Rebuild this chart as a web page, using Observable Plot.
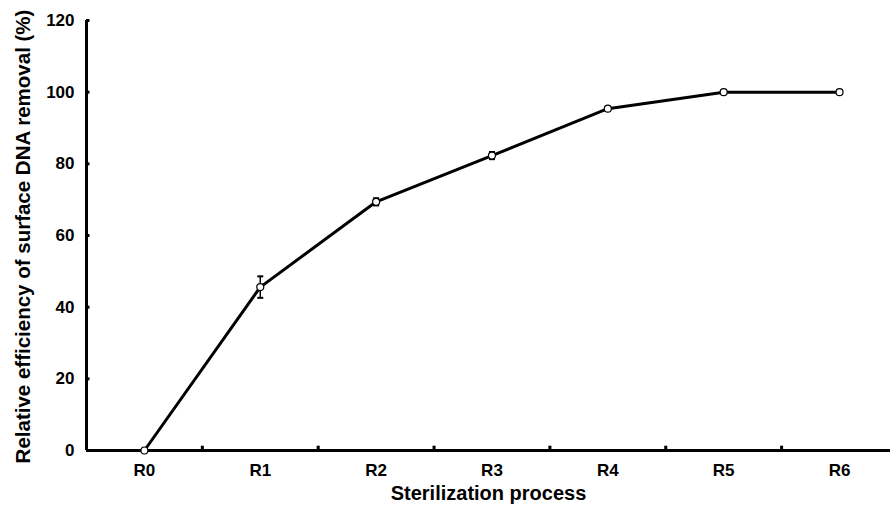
<!DOCTYPE html>
<html><head><meta charset="utf-8">
<script src="https://cdn.jsdelivr.net/npm/d3@7"></script>
<script src="https://cdn.jsdelivr.net/npm/@observablehq/plot@0.6"></script>
<style>body{margin:0;background:#fff}</style>
</head><body><div id="chart"></div>
<script>
const categories = ["R0","R1","R2","R3","R4","R5","R6"];
const values = [0, 45.6, 69.4, 82.3, 95.4, 100, 100];
const errors = [0, 3, 1, 1, 0.4, 0, 0];
const yTicks = [0,20,40,60,80,100,120];
const yLabel = "Relative efficiency of surface DNA removal (%)";
const xLabel = "Sterilization process";

const data = categories.map((c,i)=>({i, c, v: values[i], e: errors[i]}));
const bounds = d3.range(0.5, categories.length - 1, 1);
const caps = data.filter(d => d.e > 0).flatMap(d => [{i: d.i, y: d.v - d.e}, {i: d.i, y: d.v + d.e}]);
const font = "'Liberation Sans', Arial, sans-serif";

const plot = Plot.plot({
  width: 890, height: 511,
  marginLeft: 86, marginRight: 0, marginTop: 20, marginBottom: 61,
  style: {fontFamily: font, fontWeight: "bold", fontSize: "17px", color: "#000", background: "#fff"},
  x: {type: "linear", domain: [-0.5, 6.44], axis: null},
  y: {domain: [0, 120], axis: null},
  marks: [
    Plot.text(yTicks, {x: -0.5, y: d => d, text: d => String(d), textAnchor: "end", dx: -12, fontSize: 17, fontWeight: "bold", fill: "#000"}),
    Plot.text(categories, {x: (d, i) => i, y: 0, text: d => d, lineAnchor: "top", dy: 13, fontSize: 17, fontWeight: "bold", fill: "#000"}),
    Plot.text([yLabel], {text: d => d, frameAnchor: "left", textAnchor: "middle", rotate: -90, dx: -63, dy: 1, fontSize: 20.5, fontWeight: "bold", fill: "#000"}),
    Plot.text([xLabel], {text: d => d, frameAnchor: "bottom", textAnchor: "middle", dy: 49, fontSize: 20, fontWeight: "bold", fill: "#000"}),
    Plot.ruleY(yTicks, {y: d => d, x1: -0.5, x2: -0.47, stroke: "#000", strokeWidth: 3}),
    Plot.ruleX(bounds, {x: d => d, y1: 0, y2: 1.2, stroke: "#000", strokeWidth: 3}),
    Plot.ruleX([-0.5], {x: d => d, y1: 0, y2: 120, stroke: "#000", strokeWidth: 3}),
    Plot.ruleY([0], {y: d => d, x1: -0.5, x2: 6.44, stroke: "#000", strokeWidth: 3}),
    Plot.line(data, {x: "i", y: "v", stroke: "#000", strokeWidth: 3}),
    Plot.ruleX(data.filter(d => d.e > 0), {x: "i", y1: d => d.v - d.e, y2: d => d.v + d.e, stroke: "#000", strokeWidth: 1.5}),
    Plot.link(caps, {x1: d => d.i - 0.026, x2: d => d.i + 0.026, y1: "y", y2: "y", stroke: "#000", strokeWidth: 2}),
    Plot.dot(data, {x: "i", y: "v", r: 3.5, fill: "#fff", stroke: "#000", strokeWidth: 1.2})
  ]
});
document.getElementById("chart").append(plot);
</script></body></html>
